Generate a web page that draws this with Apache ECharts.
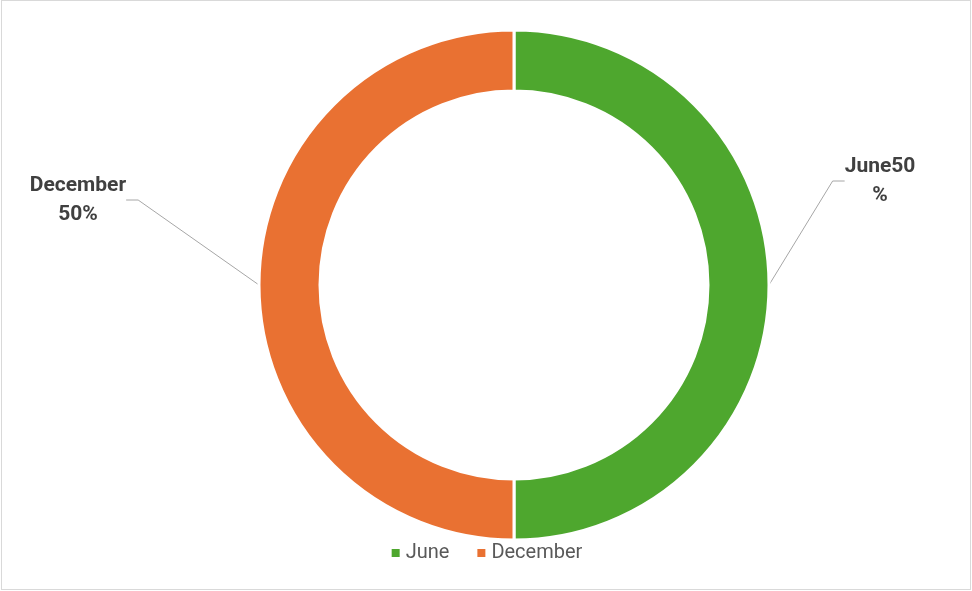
<!DOCTYPE html>
<html>
<head>
<meta charset="utf-8">
<script src="https://cdn.jsdelivr.net/npm/echarts@6/dist/echarts.min.js"></script>
<style>
html,body{margin:0;padding:0;background:#fff;}
#frame{position:absolute;left:1px;top:0;width:970px;height:590px;border:1px solid #d9d9d9;box-sizing:border-box;}
#chart{position:absolute;left:0;top:0;width:972px;height:591px;}
</style>
</head>
<body>
<div id="frame"></div>
<div id="chart"></div>
<script>
const categories = ['June', 'December'];
const values = [50, 50];
const colors = ['#4ea72e', '#e97132'];
const labelTexts = ['June50\n%', 'December\n50%'];
const labelPos = [[880, 181], [78, 200]];

const chart = echarts.init(document.getElementById('chart'), null, {renderer: 'canvas'});
chart.setOption({
  animation: false,
  textStyle: {fontFamily: 'Roboto, "Liberation Sans", sans-serif'},
  legend: {
    bottom: 23,
    left: 'center',
    icon: 'rect',
    itemWidth: 10,
    itemHeight: 10,
    itemGap: 26,
    textStyle: {fontSize: 20, color: '#595959', fontFamily: 'Roboto, "Liberation Sans", sans-serif'},
    data: categories
  },
  series: [{
    type: 'pie',
    center: [514, 285],
    radius: [194, 255],
    startAngle: 90,
    clockwise: true,
    itemStyle: {borderColor: '#fff', borderWidth: 3},
    label: {
      show: true,
      position: 'outside',
      fontSize: 21,
      fontWeight: 'bold',
      color: '#404040',
      lineHeight: 29,
      align: 'center',
      formatter: p => labelTexts[p.dataIndex]
    },
    labelLine: {show: true, lineStyle: {color: '#a6a6a6', width: 1}, length: 20, length2: 12},
    labelLayout: function (params) {
      const p = labelPos[params.dataIndex];
      return {x: p[0], y: p[1], align: 'center', verticalAlign: 'middle'};
    },
    data: categories.map((c, i) => ({name: c, value: values[i], itemStyle: {color: colors[i]}}))
  }]
});
</script>
</body>
</html>
